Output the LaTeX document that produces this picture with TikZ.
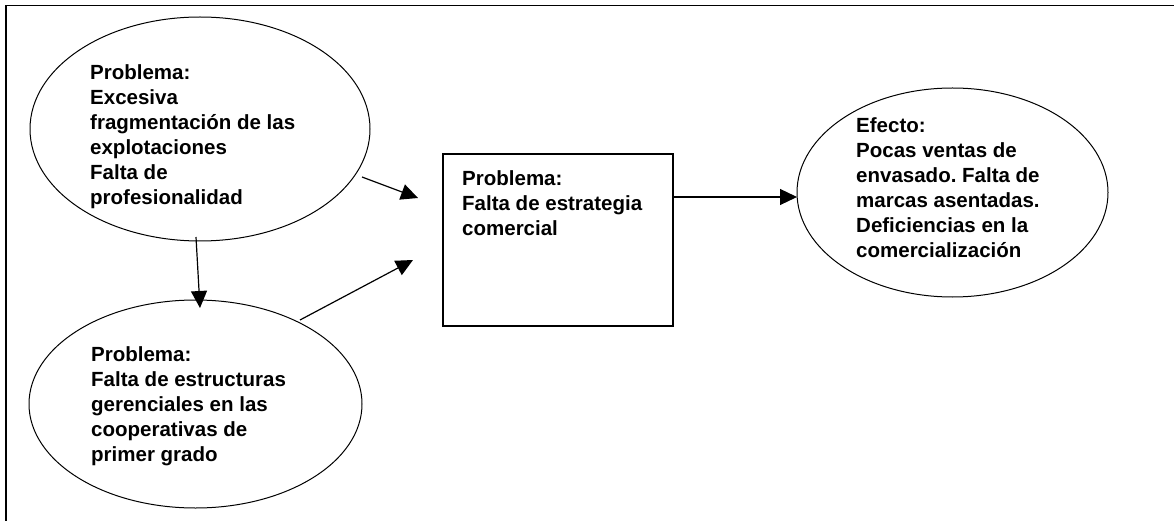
\documentclass[tikz,border=0pt]{standalone}
\usepackage{fontspec}
\setmainfont{Liberation Sans}
\usetikzlibrary{shapes.geometric,arrows.meta}
\frenchspacing
\begin{document}
\begin{tikzpicture}[x=1pt,y=-1pt,
  ell/.style={draw,line width=1pt,ellipse,inner sep=0},
  boxshape/.style={draw,line width=1.3pt,rectangle,inner sep=0},
  txt/.style={anchor=north west,inner sep=0,align=left,font=\fontsize{20.5}{25}\selectfont\bfseries},
  arr/.style={line width=1.2pt,-{Triangle[length=17pt,width=16pt]}}]
\useasboundingbox (0,0) rectangle (1174,521);
\draw[line width=1.6pt] (6,521) -- (6,5.5) -- (1174,5.5);
\node[ell,minimum width=340pt,minimum height=224pt] (e1) at (200,129) {};
\node[ell,minimum width=333pt,minimum height=208pt] (e2) at (195.5,404) {};
\node[boxshape,minimum width=230pt,minimum height=172pt] (b) at (558,240) {};
\node[ell,minimum width=311pt,minimum height=209pt] (e3) at (952.5,192.5) {};
\node[txt] (t1) at (90,64) {Problema:\\Excesiva\\fragmentación de las\\explotaciones\\Falta de\\profesionalidad};
\node[txt] (t2) at (91,346) {Problema:\\Falta de estructuras\\gerenciales en las\\cooperativas de\\primer grado};
\node[txt] (t3) at (462,170) {Problema:\\Falta de estrategia\\comercial};
\node[txt] (t4) at (856,117) {Efecto:\\Pocas ventas de\\envasado. Falta de\\marcas asentadas.\\Deficiencias en la\\comercialización};
\coordinate (a1s) at (362,177);
\coordinate (a1e) at (418,198);
\coordinate (a2s) at (196,237);
\coordinate (a2e) at (200,308);
\coordinate (a3s) at (300,320);
\coordinate (a3e) at (413,260);
\coordinate (a4s) at (673,197);
\coordinate (a4e) at (797,197);
\draw[arr] (a1s) -- (a1e);
\draw[arr] (a2s) -- (a2e);
\draw[arr] (a3s) -- (a3e);
\draw[arr] (a4s) -- (a4e);
\end{tikzpicture}
\end{document}
